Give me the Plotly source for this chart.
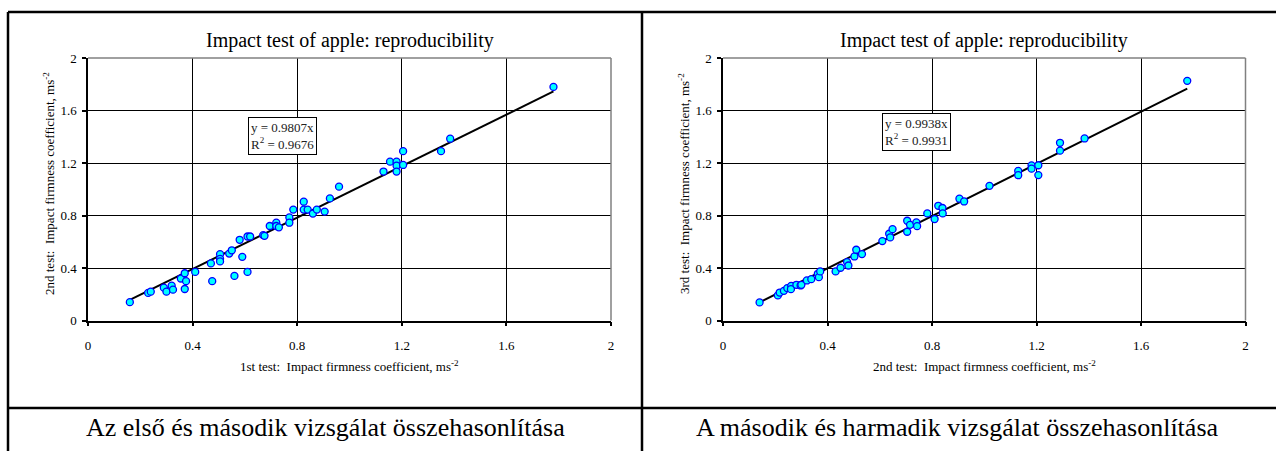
import plotly.graph_objects as go

# Impact firmness coefficients (ms^-2) of the apple samples
test1_vs_2_x = [0.16, 0.23, 0.24, 0.29, 0.30, 0.32, 0.325, 0.355, 0.37, 0.37, 0.375, 0.41,
                0.47, 0.475, 0.505, 0.505, 0.505, 0.54, 0.55, 0.56, 0.58, 0.59, 0.61, 0.62,
                0.61, 0.67, 0.675, 0.695, 0.72, 0.72, 0.73, 0.77, 0.77, 0.785, 0.825, 0.825,
                0.84, 0.86, 0.875, 0.905, 0.925, 0.96, 1.13, 1.155, 1.18, 1.18, 1.18, 1.205,
                1.205, 1.35, 1.385, 1.78]
test1_vs_2_y = [0.14, 0.21, 0.22, 0.25, 0.22, 0.265, 0.235, 0.32, 0.36, 0.24, 0.30, 0.37,
                0.435, 0.30, 0.505, 0.47, 0.45, 0.51, 0.535, 0.34, 0.615, 0.485, 0.64, 0.64,
                0.37, 0.65, 0.645, 0.72, 0.745, 0.72, 0.71, 0.785, 0.745, 0.845, 0.905, 0.845,
                0.845, 0.815, 0.845, 0.83, 0.93, 1.02, 1.135, 1.21, 1.21, 1.18, 1.135, 1.29,
                1.185, 1.29, 1.385, 1.78]

test2_vs_3_x = [0.14, 0.21, 0.217, 0.233, 0.246, 0.261, 0.26, 0.281, 0.297, 0.30, 0.321, 0.338,
                0.363, 0.367, 0.372, 0.431, 0.45, 0.475, 0.48, 0.503, 0.51, 0.532, 0.61, 0.636,
                0.64, 0.649, 0.705, 0.705, 0.716, 0.74, 0.743, 0.782, 0.81, 0.824, 0.84, 0.841,
                0.905, 0.923, 1.02, 1.13, 1.13, 1.181, 1.181, 1.207, 1.207, 1.29, 1.29, 1.384,
                1.777]
test2_vs_3_y = [0.138, 0.191, 0.213, 0.226, 0.247, 0.264, 0.239, 0.272, 0.267, 0.272, 0.305, 0.315,
                0.356, 0.33, 0.374, 0.374, 0.402, 0.445, 0.419, 0.488, 0.539, 0.506, 0.605, 0.661,
                0.633, 0.696, 0.76, 0.676, 0.729, 0.747, 0.719, 0.816, 0.773, 0.874, 0.857, 0.816,
                0.928, 0.907, 1.026, 1.14, 1.107, 1.182, 1.157, 1.183, 1.108, 1.354, 1.294, 1.387,
                1.826]

slopes = [0.9807, 0.9938]
r_squared = [0.9676, 0.9931]

chart_title = "Impact test of apple: reproducibility"
x_titles = ["1st test:  Impact firmness coefficient, ms<sup>-2</sup>",
            "2nd test:  Impact firmness coefficient, ms<sup>-2</sup>"]
y_titles = ["2nd test:  Impact firmness coefficient, ms<sup>-2</sup>",
            "3rd test:  Impact firmness coefficient, ms<sup>-2</sup>"]
captions = ["Az első és második vizsgálat összehasonlítása",
            "A második és harmadik vizsgálat összehasonlítása"]
tick_vals = [0, 0.4, 0.8, 1.2, 1.6, 2]
tick_text = ["0", "0.4", "0.8", "1.2", "1.6", "2"]

W, H = 1276, 451
FONT = "Liberation Serif, Times New Roman, serif"


def px(x):
    return x / W


def py(y):
    return 1 - y / H


# pixel frames of the two plot areas: (left, right, top, bottom)
frames = [(88, 611, 58, 320.5), (723, 1245.5, 58, 320.5)]
datasets = [(test1_vs_2_x, test1_vs_2_y), (test2_vs_3_x, test2_vs_3_y)]
box_pos = [(248, 117), (882, 113)]
cell_centers = [325, 957]

fig = go.Figure()
annotations = []
shapes = []

for i, ((xs, ys), (l, r, t, b)) in enumerate(zip(datasets, frames)):
    sfx = "" if i == 0 else str(i + 1)
    xa, ya = "x" + sfx, "y" + sfx
    # linear trendline through the origin
    xline = [min(xs), max(xs)]
    yline = [slopes[i] * v for v in xline]
    fig.add_trace(go.Scatter(x=xline, y=yline, mode="lines", xaxis=xa, yaxis=ya,
                             line=dict(color="black", width=2), showlegend=False,
                             hoverinfo="skip"))
    fig.add_trace(go.Scatter(x=xs, y=ys, mode="markers", xaxis=xa, yaxis=ya,
                             marker=dict(size=7, color="#00FFFF",
                                         line=dict(color="#0000FF", width=1.3)),
                             showlegend=False))
    axis_common = dict(range=[0, 2], tickvals=tick_vals, ticktext=tick_text,
                       showgrid=True, gridcolor="black", gridwidth=1.3,
                       zeroline=False, showline=True, linecolor="black", linewidth=1.5,
                       ticks="outside", ticklen=4, tickwidth=1.5, tickcolor="black",
                       tickfont=dict(family=FONT, size=13, color="black"), fixedrange=True,
                       automargin=False)
    fig.update_layout(**{
        "xaxis" + sfx: dict(axis_common, domain=[px(l), px(r)], anchor=ya,
                            ticklabelstandoff=8),
        "yaxis" + sfx: dict(axis_common, domain=[py(b), py(t)], anchor=xa,
                            ticklabelstandoff=3),
    })
    # grey frame on the top and right sides of the plot area
    shapes.append(dict(type="line", xref="paper", yref="paper", x0=px(l), x1=px(r),
                       y0=py(t), y1=py(t), line=dict(color="#808080", width=1.5)))
    shapes.append(dict(type="line", xref="paper", yref="paper", x0=px(r), x1=px(r),
                       y0=py(t), y1=py(b), line=dict(color="#808080", width=1.5)))

    cx = (l + r) / 2
    annotations.append(dict(text=chart_title, x=px(cx), y=py(40), xref="paper", yref="paper",
                            showarrow=False, font=dict(family=FONT, size=20, color="black"),
                            xanchor="center", yanchor="middle"))
    annotations.append(dict(text=x_titles[i], x=px(cx), y=py(366), xref="paper",
                            yref="paper", showarrow=False,
                            font=dict(family=FONT, size=13, color="black"),
                            xanchor="center", yanchor="middle"))
    annotations.append(dict(text=y_titles[i], x=px(l - 39), y=py(184), xref="paper",
                            yref="paper", showarrow=False, textangle=-90,
                            font=dict(family=FONT, size=13, color="black"),
                            xanchor="center", yanchor="middle"))
    bx, by = box_pos[i]
    annotations.append(dict(text=f"y = {slopes[i]}x<br>R<sup>2</sup> = {r_squared[i]}",
                            x=px(bx), y=py(by), xref="paper", yref="paper",
                            showarrow=False, align="left", xanchor="left", yanchor="top",
                            bgcolor="white", bordercolor="black", borderwidth=1,
                            borderpad=2,
                            font=dict(family=FONT, size=13, color="#222222")))
    annotations.append(dict(text=captions[i], x=px(cell_centers[i]), y=py(427),
                            xref="paper", yref="paper", showarrow=False,
                            font=dict(family=FONT, size=26, color="black"),
                            xanchor="center", yanchor="middle"))

# table rules around the two cells
table_line = dict(color="black", width=2.5)
for x0, y0, x1, y1 in [(8, 12, 1276, 12), (8, 408, 1276, 408),
                       (8, 12, 8, 451), (642, 12, 642, 451)]:
    shapes.append(dict(type="line", xref="paper", yref="paper",
                       x0=px(x0), x1=px(x1), y0=py(y0), y1=py(y1), line=table_line))

fig.update_layout(width=W, height=H, margin=dict(l=0, r=0, t=0, b=0),
                  paper_bgcolor="white", plot_bgcolor="white",
                  annotations=annotations, shapes=shapes, showlegend=False)

fig.write_html("out.html", config={"displayModeBar": False})
